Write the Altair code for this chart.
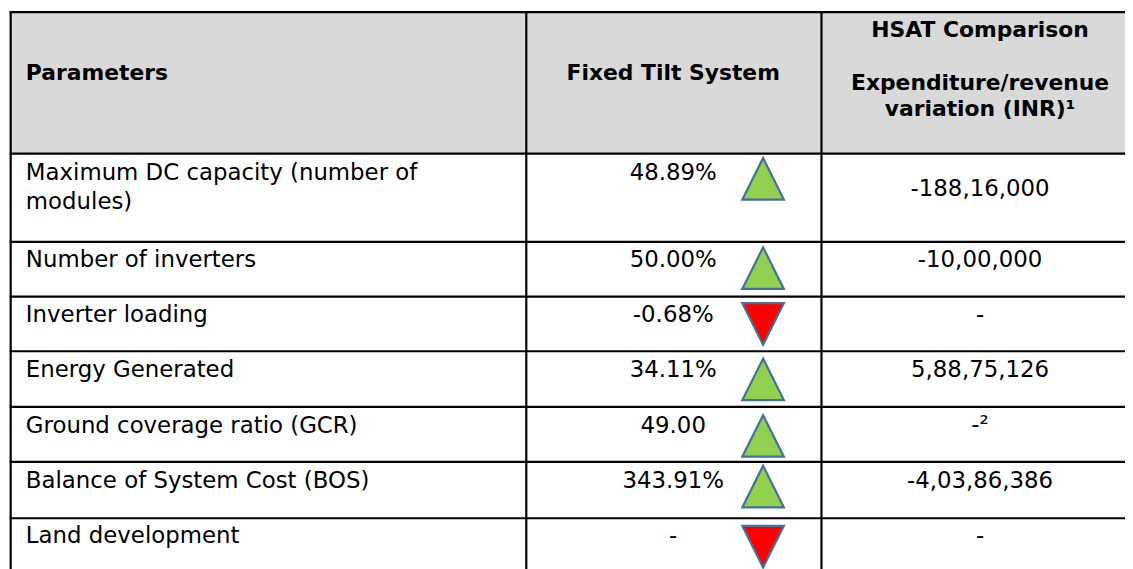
import altair as alt
import pandas as pd

# ---------------- data ----------------
header_params = "Parameters"
header_fixed = "Fixed Tilt System"
header_hsat = ["HSAT Comparison", "Expenditure/revenue", "variation (INR)\u00b9"]

parameters = [
    "Maximum DC capacity (number of\nmodules)",
    "Number of inverters",
    "Inverter loading",
    "Energy Generated",
    "Ground coverage ratio (GCR)",
    "Balance of System Cost (BOS)",
    "Land development",
]
fixed_tilt = ["48.89%", "50.00%", "-0.68%", "34.11%", "49.00", "343.91%", "-"]
direction = ["up", "up", "down", "up", "up", "up", "down"]
hsat = ["-188,16,000", "-10,00,000", "-", "5,88,75,126", "-\u00b2", "-4,03,86,386", "-"]

# ---------------- layout (reference pixel coordinates) ----------------
W, H = 1125, 561
X0, Y0 = 8, 8
row_lines = [10.1, 152.7, 241.5, 296.7, 351.7, 407.7, 463.1, 519.9]
col_lines = [10.7, 530.0, 827.3]
right_edge, bottom_edge = 1140, 580
row_base = [179.3, 266.7, 322.3, 377.8, 434.0, 489.3, 545.0]
hsat_base = [195.0, 266.7, 321.8, 378.0, 433.5, 489.8, 545.0]
tri_y = [178.0, 268.0, 324.2, 380.0, 437.0, 488.0, 548.5]
tri_x = 768.5
col1_x = 26
col2_cx = 678
col3_cx = 987
FONT = "DejaVu Sans"
FS = 23
FSB = 22

xs = alt.Scale(domain=[X0, X0 + W], nice=False, zero=False)
ys = alt.Scale(domain=[Y0, Y0 + H], nice=False, zero=False, reverse=True)
X = lambda f: alt.X(f, type="quantitative", scale=xs, axis=None)
Y = lambda f: alt.Y(f, type="quantitative", scale=ys, axis=None)

# header background
hdr = pd.DataFrame({"x": [col_lines[0]], "x2": [right_edge], "y": [row_lines[0]], "y2": [row_lines[1]]})
hdr_rect = alt.Chart(hdr).mark_rect(color="#d9d9d9").encode(
    x=X("x"), x2="x2", y=Y("y"), y2="y2")

# grid lines
segs = []
for yy in row_lines:
    segs.append({"x": col_lines[0] - 1, "x2": right_edge, "y": yy, "y2": yy})
for xx in col_lines:
    segs.append({"x": xx, "x2": xx, "y": row_lines[0] - 1, "y2": bottom_edge})
lines = alt.Chart(pd.DataFrame(segs)).mark_rule(color="#000000", strokeWidth=2.2).encode(
    x=X("x"), x2="x2", y=Y("y"), y2="y2")

# header texts
hl = pd.DataFrame({"x": [col1_x], "y": [78.3], "t": [header_params]})
hc = pd.DataFrame({
    "x": [col2_cx, col3_cx, col3_cx, col3_cx],
    "y": [78.3, 35.0, 88.3, 115.0],
    "t": [header_fixed] + header_hsat,
})
head_left = alt.Chart(hl).mark_text(align="left", baseline="alphabetic", font=FONT,
                                     fontSize=FSB, fontWeight="bold", color="#000").encode(
    x=X("x"), y=Y("y"), text="t:N")
head_center = alt.Chart(hc).mark_text(align="center", baseline="alphabetic", font=FONT,
                                       fontSize=FSB, fontWeight="bold", color="#000").encode(
    x=X("x"), y=Y("y"), text="t:N")

# body
body = pd.DataFrame({
    "param": parameters,
    "fixed": fixed_tilt,
    "dir": direction,
    "hsat": hsat,
    "yb": row_base,
    "yh": hsat_base,
    "yt": tri_y,
})
body["x1"] = col1_x
body["x2c"] = col2_cx
body["x3c"] = col3_cx
body["xt"] = tri_x

txt = dict(baseline="alphabetic", font=FONT, fontSize=FS, color="#000")
c1 = alt.Chart(body).mark_text(align="left", lineBreak="\n", lineHeight=29.5, **txt).encode(
    x=X("x1"), y=Y("yb"), text="param:N")
c2 = alt.Chart(body).mark_text(align="center", **txt).encode(
    x=X("x2c"), y=Y("yb"), text="fixed:N")
c3 = alt.Chart(body).mark_text(align="center", **txt).encode(
    x=X("x3c"), y=Y("yh"), text="hsat:N")

up_path = "M0,-1L1,1L-1,1Z"
down_path = "M-1,-1L1,-1L0,1Z"
tri = alt.Chart(body).mark_point(filled=True, size=1750, stroke="#41719c",
                                  strokeWidth=2.2, opacity=1).encode(
    x=X("xt"), y=Y("yt"),
    shape=alt.Shape("dir:N", scale=alt.Scale(domain=["up", "down"], range=[up_path, down_path]), legend=None),
    fill=alt.Fill("dir:N", scale=alt.Scale(domain=["up", "down"], range=["#92d050", "#ff0000"]), legend=None),
)

chart = alt.layer(hdr_rect, lines, head_left, head_center, c1, c2, c3, tri).properties(
    width=W, height=H, padding=0,
    autosize=alt.AutoSizeParams(type="none"),
    background="white",
).configure_view(stroke=None)

chart.save("out.html", embed_options={"renderer": "svg", "actions": False})
